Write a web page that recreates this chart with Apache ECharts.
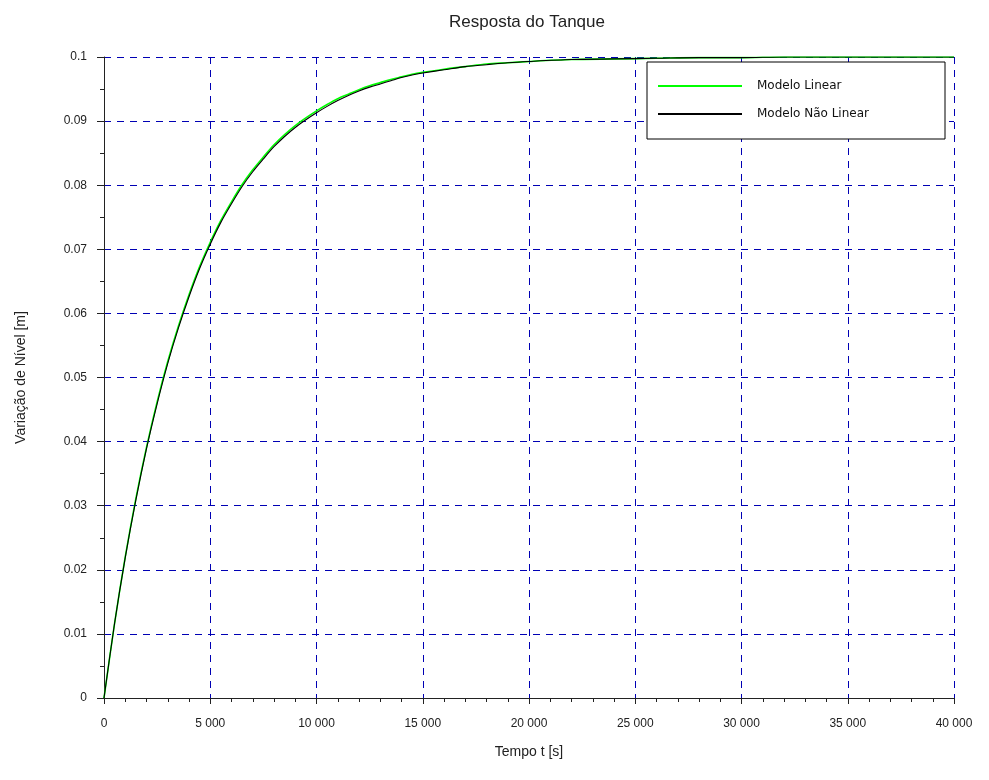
<!DOCTYPE html>
<html>
<head>
<meta charset="utf-8">
<script src="https://cdn.jsdelivr.net/npm/echarts@6/dist/echarts.min.js"></script>
<style>
html, body { margin: 0; padding: 0; background: #fff; }
#main { width: 989px; height: 780px; }
</style>
</head>
<body>
<div id="main"></div>
<script>
// tempo [s]
var tempo = [0, 500, 1000, 1500, 2000, 2500, 3000, 3500, 4000, 4500, 5000,
  5500, 6000, 6500, 7000, 7500, 8000, 8500, 9000, 9500, 10000,
  10500, 11000, 11500, 12000, 12500, 13000, 13500, 14000, 14500, 15000,
  16000, 17000, 18000, 19000, 20000, 22000, 24000, 26000, 28000, 30000,
  32000, 34000, 36000, 38000, 40000];
var modeloLinear = [0, 0.0117, 0.0220, 0.0311, 0.0391, 0.0462, 0.0525, 0.0580, 0.0629, 0.0673, 0.0711,
  0.0745, 0.0774, 0.0801, 0.0824, 0.0844, 0.0863, 0.0879, 0.0893, 0.0905, 0.0916,
  0.0926, 0.0935, 0.0942, 0.0949, 0.0955, 0.0960, 0.0965, 0.0969, 0.0973, 0.0976,
  0.0981, 0.0985, 0.0989, 0.0991, 0.0993, 0.0996, 0.0997, 0.0998, 0.0999, 0.0999,
  0.1000, 0.1000, 0.1000, 0.1000, 0.1000];
var modeloNaoLinear = [0, 0.0117, 0.0219, 0.0309, 0.0389, 0.0459, 0.0522, 0.0577, 0.0626, 0.0670, 0.0708,
  0.0742, 0.0771, 0.0798, 0.0821, 0.0841, 0.0860, 0.0876, 0.0890, 0.0902, 0.0913,
  0.0923, 0.0932, 0.0940, 0.0947, 0.0953, 0.0958, 0.0963, 0.0968, 0.0972, 0.0975,
  0.0980, 0.0985, 0.0988, 0.0991, 0.0993, 0.0996, 0.0997, 0.0998, 0.0999, 0.0999,
  0.1000, 0.1000, 0.1000, 0.1000, 0.1000];
var xTickLabels = ['0', '5 000', '10 000', '15 000', '20 000', '25 000', '30 000', '35 000', '40 000'];
var yTickLabels = ['0', '0.01', '0.02', '0.03', '0.04', '0.05', '0.06', '0.07', '0.08', '0.09', '0.1'];

function pares(xs, ys) {
  var out = [];
  for (var i = 0; i < xs.length; i++) out.push([xs[i], ys[i]]);
  return out;
}
function grade() {
  return { show: true, lineStyle: { color: '#0000b4', width: 1, type: [7, 6] } };
}

var myChart = echarts.init(document.getElementById('main'));
var option = {
  animation: false,
  backgroundColor: '#fff',
  textStyle: { fontFamily: 'Liberation Sans, Arial, sans-serif' },
  title: {
    text: 'Resposta do Tanque',
    left: 444,
    top: 9,
    textStyle: { fontSize: 17, fontWeight: 'normal', color: '#222' }
  },
  legend: {
    left: 647,
    top: 62,
    orient: 'vertical',
    padding: [17, 19, 18, 11],
    itemGap: 14,
    itemWidth: 84,
    itemHeight: 2,
    icon: 'rect',
    backgroundColor: '#fff',
    borderColor: '#000',
    borderWidth: 1,
    borderRadius: 0,
    textStyle: { fontSize: 12, color: '#111', width: 169, lineHeight: 14, padding: [0, 0, 0, 10],
      fontFamily: 'DejaVu Sans, sans-serif' },
    data: ['Modelo Linear', 'Modelo Não Linear']
  },
  grid: { left: 104, right: 35, top: 57, bottom: 82, containLabel: false },
  xAxis: {
    type: 'value',
    min: 0,
    max: 40000,
    interval: 5000,
    name: 'Tempo t [s]',
    nameLocation: 'middle',
    nameGap: 47,
    nameTextStyle: { fontSize: 14, color: '#222' },
    axisLine: { lineStyle: { color: '#222', width: 1 } },
    axisTick: { show: true, length: 6, lineStyle: { color: '#222' } },
    minorTick: { show: true, splitNumber: 5, length: 4, lineStyle: { color: '#222' } },
    axisLabel: { margin: 20, fontSize: 12, color: '#222',
      formatter: function (v) { return xTickLabels[Math.round(v / 5000)]; } },
    splitLine: grade()
  },
  yAxis: {
    type: 'value',
    min: 0,
    max: 0.1,
    interval: 0.01,
    name: 'Variação de Nível [m]',
    nameLocation: 'middle',
    nameGap: 76,
    nameTextStyle: { fontSize: 14, color: '#222' },
    axisLine: { show: true, lineStyle: { color: '#222', width: 1 } },
    axisTick: { show: true, length: 7, lineStyle: { color: '#222' } },
    minorTick: { show: true, splitNumber: 2, length: 4, lineStyle: { color: '#222' } },
    axisLabel: { margin: 17, fontSize: 12, color: '#222',
      formatter: function (v) { return yTickLabels[Math.round(v / 0.01)]; } },
    splitLine: grade()
  },
  series: [
    {
      name: 'Modelo Linear',
      type: 'line',
      symbol: 'none',
      smooth: 0.3,
      color: '#00ff00',
      lineStyle: { color: '#00ff00', width: 1.6 },
      data: pares(tempo, modeloLinear)
    },
    {
      name: 'Modelo Não Linear',
      type: 'line',
      symbol: 'none',
      smooth: 0.3,
      color: '#000',
      lineStyle: { color: '#000', width: 1.1 },
      data: pares(tempo, modeloNaoLinear)
    }
  ]
};
myChart.setOption(option);
</script>
</body>
</html>
